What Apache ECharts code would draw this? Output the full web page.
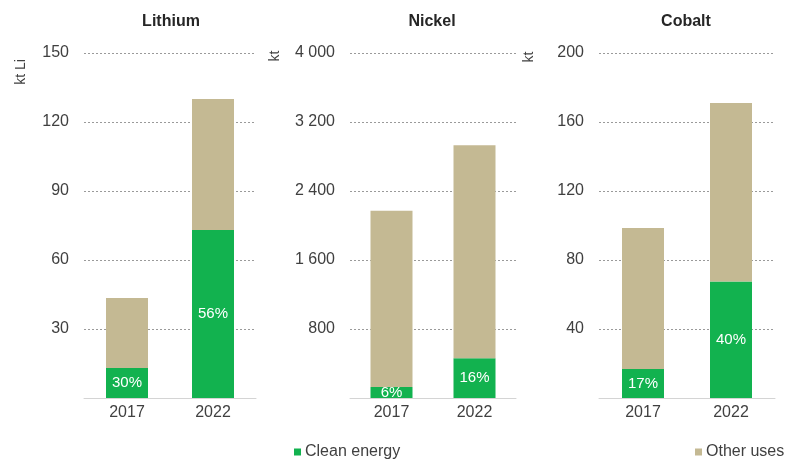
<!DOCTYPE html>
<html>
<head>
<meta charset="utf-8">
<script src="https://cdn.jsdelivr.net/npm/echarts@6/dist/echarts.min.js"></script>
<style>html,body{margin:0;padding:0;background:#fff}#c{width:787px;height:459px}</style>
</head>
<body>
<div id="c"></div>
<script>
// ---- data ----
const categories = ['2017', '2022'];
const panelTitles = ['Lithium', 'Nickel', 'Cobalt'];
const unitLabels = ['kt Li', 'kt', 'kt'];
const lithiumClean = [13, 73];
const lithiumOther = [30.5, 57];
const lithiumShare = ['30%', '56%'];
const nickelClean = [128, 462];
const nickelOther = [2042, 2468];
const nickelShare = ['6%', '16%'];
const cobaltClean = [16.8, 67.5];
const cobaltOther = [81.8, 103.5];
const cobaltShare = ['17%', '40%'];
const yMax = [150, 4000, 200];
const yStep = [30, 800, 40];
const legendNames = ['Clean energy', 'Other uses'];

// ---- styling / layout ----
const FONT = 'Liberation Sans, Arial, sans-serif';
const GREEN = '#12b24f';
const TAN = '#c4b993';
const TXT = '#404040';
const grids = [
  { left: 84, width: 172, top: 53, bottom: 61 },
  { left: 350, width: 166, top: 53, bottom: 61 },
  { left: 599, width: 176, top: 53, bottom: 61 }
];
const cleanSets = [lithiumClean, nickelClean, cobaltClean];
const otherSets = [lithiumOther, nickelOther, cobaltOther];
const shareSets = [lithiumShare, nickelShare, cobaltShare];

function fmt(v) {
  if (v === 0) return '';
  return String(v).replace(/\B(?=(\d{3})+(?!\d))/g, ' ');
}

const xAxis = [], yAxis = [], series = [];
grids.forEach((g, i) => {
  xAxis.push({
    type: 'category', gridIndex: i, data: categories,
    axisLine: { show: true, lineStyle: { color: '#d4d4d4', width: 1 } },
    axisTick: { show: false },
    axisLabel: { color: TXT, fontSize: 16, fontFamily: FONT, margin: 7 }
  });
  yAxis.push({
    type: 'value', gridIndex: i, min: 0, max: yMax[i], interval: yStep[i],
    axisLine: { show: false }, axisTick: { show: false },
    axisLabel: { color: TXT, fontSize: 16, fontFamily: FONT, margin: 15, formatter: fmt },
    splitLine: { lineStyle: { color: '#9a9a9a', type: [2, 2], width: 1 } }
  });
  const shares = shareSets[i];
  series.push({
    name: legendNames[0], type: 'bar', stack: 's' + i,
    xAxisIndex: i, yAxisIndex: i, barWidth: 42,
    itemStyle: { color: GREEN },
    label: {
      show: true, position: 'inside', color: '#fff', fontSize: 15, fontFamily: FONT,
      formatter: p => shares[p.dataIndex]
    },
    data: cleanSets[i]
  });
  series.push({
    name: legendNames[1], type: 'bar', stack: 's' + i,
    xAxisIndex: i, yAxisIndex: i, barWidth: 42,
    itemStyle: { color: TAN },
    data: otherSets[i]
  });
});

const titleX = [171, 432, 686];
const unitPos = [[21, 72], [275, 56], [529, 57]];
const graphic = [];
panelTitles.forEach((t, i) => {
  graphic.push({
    type: 'text', x: titleX[i], y: 22,
    style: { text: t, font: 'bold 16px ' + FONT, fill: '#262626', align: 'center', verticalAlign: 'middle' }
  });
  graphic.push({
    type: 'text', x: unitPos[i][0], y: unitPos[i][1], rotation: Math.PI / 2,
    style: { text: unitLabels[i], font: '14px ' + FONT, fill: TXT, align: 'center', verticalAlign: 'middle' }
  });
});

const chart = echarts.init(document.getElementById('c'));
chart.setOption({
  animation: false,
  backgroundColor: '#fff',
  grid: grids,
  xAxis, yAxis, series, graphic,
  legend: [
    { data: [legendNames[0]], left: 289, top: 439, itemWidth: 7, itemHeight: 7, itemGap: 0,
      icon: 'rect', textStyle: { color: TXT, fontSize: 16, fontFamily: FONT, padding: [0, 0, 0, -1] } },
    { data: [legendNames[1]], left: 690, top: 439, itemWidth: 7, itemHeight: 7, itemGap: 0,
      icon: 'rect', textStyle: { color: TXT, fontSize: 16, fontFamily: FONT, padding: [0, 0, 0, -1] } }
  ]
});
</script>
</body>
</html>
